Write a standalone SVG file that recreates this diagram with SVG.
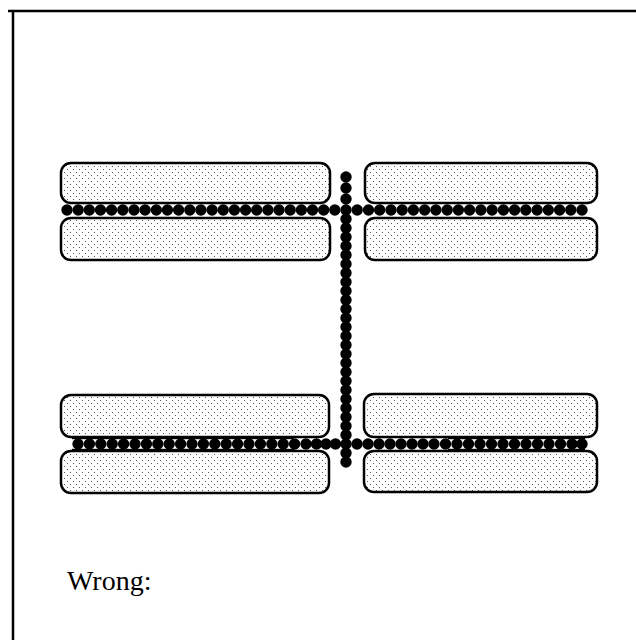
<svg xmlns="http://www.w3.org/2000/svg" width="636" height="640" viewBox="0 0 636 640">
<defs>
<pattern id="stip" width="6" height="6" patternUnits="userSpaceOnUse">
<rect width="6" height="6" fill="#fff"/>
<rect x="1" y="1" width="1" height="1" fill="#555"/>
<rect x="4" y="4" width="1" height="1" fill="#555"/>
</pattern>
<style>
.box{fill:url(#stip);stroke:#000;stroke-width:2.5}
.d{fill:#000}
</style>
<circle id="dot" r="5.7" class="d"/>
</defs>
<rect width="636" height="640" fill="#fff"/>
<g id="frame" stroke="#000" stroke-width="2.5" fill="none">
<line x1="8" y1="11" x2="636" y2="11"/>
<line x1="13" y1="10" x2="13" y2="640"/>
</g>
<g id="box-tl-upper"><rect class="box" x="61" y="163" width="269" height="40" rx="10"/></g>
<g id="box-tl-lower"><rect class="box" x="61" y="218" width="269" height="42" rx="10"/></g>
<g id="box-tr-upper"><rect class="box" x="365" y="163" width="232" height="40" rx="10"/></g>
<g id="box-tr-lower"><rect class="box" x="365" y="218" width="232" height="42" rx="10"/></g>
<g id="box-bl-upper"><rect class="box" x="61" y="395" width="268" height="42" rx="10"/></g>
<g id="box-bl-lower"><rect class="box" x="61" y="451" width="268" height="42" rx="10"/></g>
<g id="box-br-upper"><rect class="box" x="364" y="394" width="233" height="43" rx="10"/></g>
<g id="box-br-lower"><rect class="box" x="364" y="451" width="233" height="41" rx="10"/></g>
<g id="connectors">
<g id="row-top-left">
<use href="#dot" x="67" y="210"/><use href="#dot" x="78.2" y="210"/><use href="#dot" x="89.3" y="210"/><use href="#dot" x="100.5" y="210"/><use href="#dot" x="111.6" y="210"/><use href="#dot" x="122.8" y="210"/><use href="#dot" x="134" y="210"/><use href="#dot" x="145.1" y="210"/><use href="#dot" x="156.3" y="210"/><use href="#dot" x="167.4" y="210"/><use href="#dot" x="178.6" y="210"/><use href="#dot" x="189.8" y="210"/><use href="#dot" x="200.9" y="210"/><use href="#dot" x="212.1" y="210"/><use href="#dot" x="223.2" y="210"/><use href="#dot" x="234.4" y="210"/><use href="#dot" x="245.6" y="210"/><use href="#dot" x="256.7" y="210"/><use href="#dot" x="267.9" y="210"/><use href="#dot" x="279" y="210"/><use href="#dot" x="290.2" y="210"/><use href="#dot" x="301.4" y="210"/><use href="#dot" x="312.5" y="210"/><use href="#dot" x="323.7" y="210"/><use href="#dot" x="334.8" y="210"/>
</g>
<g id="row-top-right">
<use href="#dot" x="357.2" y="210"/><use href="#dot" x="368.5" y="210"/><use href="#dot" x="379.7" y="210"/><use href="#dot" x="391" y="210"/><use href="#dot" x="402.2" y="210"/><use href="#dot" x="413.4" y="210"/><use href="#dot" x="424.7" y="210"/><use href="#dot" x="435.9" y="210"/><use href="#dot" x="447.2" y="210"/><use href="#dot" x="458.4" y="210"/><use href="#dot" x="469.6" y="210"/><use href="#dot" x="480.9" y="210"/><use href="#dot" x="492.1" y="210"/><use href="#dot" x="503.4" y="210"/><use href="#dot" x="514.6" y="210"/><use href="#dot" x="525.8" y="210"/><use href="#dot" x="537.1" y="210"/><use href="#dot" x="548.3" y="210"/><use href="#dot" x="559.6" y="210"/><use href="#dot" x="570.8" y="210"/><use href="#dot" x="582" y="210"/>
</g>
<g id="row-bottom-left">
<rect x="72" y="437.2" width="222" height="2" fill="#000"/>
<rect x="72" y="448.8" width="222" height="2" fill="#000"/>
<use href="#dot" x="78" y="444"/><use href="#dot" x="89.4" y="444"/><use href="#dot" x="100.8" y="444"/><use href="#dot" x="112.2" y="444"/><use href="#dot" x="123.6" y="444"/><use href="#dot" x="135" y="444"/><use href="#dot" x="146.4" y="444"/><use href="#dot" x="157.8" y="444"/><use href="#dot" x="169.2" y="444"/><use href="#dot" x="180.6" y="444"/><use href="#dot" x="192" y="444"/><use href="#dot" x="203.4" y="444"/><use href="#dot" x="214.8" y="444"/><use href="#dot" x="226.2" y="444"/><use href="#dot" x="237.6" y="444"/><use href="#dot" x="249" y="444"/><use href="#dot" x="260.4" y="444"/><use href="#dot" x="271.8" y="444"/><use href="#dot" x="283.2" y="444"/><use href="#dot" x="294.6" y="444"/><use href="#dot" x="306" y="444"/><use href="#dot" x="316.5" y="444"/><use href="#dot" x="326" y="444"/><use href="#dot" x="335.5" y="444"/>
</g>
<g id="row-bottom-right">
<rect x="448" y="437.2" width="137" height="2" fill="#000"/>
<rect x="448" y="448.8" width="137" height="2" fill="#000"/>
<use href="#dot" x="357" y="444"/><use href="#dot" x="368" y="444"/><use href="#dot" x="379" y="444"/><use href="#dot" x="390" y="444"/><use href="#dot" x="401" y="444"/><use href="#dot" x="412" y="444"/><use href="#dot" x="423" y="444"/><use href="#dot" x="434" y="444"/><use href="#dot" x="445.5" y="444"/><use href="#dot" x="457" y="444"/><use href="#dot" x="468.5" y="444"/><use href="#dot" x="480" y="444"/><use href="#dot" x="491.5" y="444"/><use href="#dot" x="503" y="444"/><use href="#dot" x="514.5" y="444"/><use href="#dot" x="526" y="444"/><use href="#dot" x="537.5" y="444"/><use href="#dot" x="549" y="444"/><use href="#dot" x="560.5" y="444"/><use href="#dot" x="572" y="444"/><use href="#dot" x="582" y="444"/>
</g>
<g id="column">
<use href="#dot" x="346" y="177"/><use href="#dot" x="346" y="188"/><use href="#dot" x="346" y="199"/><use href="#dot" x="346" y="210"/><use href="#dot" x="346" y="219"/><use href="#dot" x="346" y="228"/><use href="#dot" x="346" y="237"/><use href="#dot" x="346" y="246"/><use href="#dot" x="346" y="255"/><use href="#dot" x="346" y="264"/><use href="#dot" x="346" y="273"/><use href="#dot" x="346" y="282"/><use href="#dot" x="346" y="291"/><use href="#dot" x="346" y="300"/><use href="#dot" x="346" y="309"/><use href="#dot" x="346" y="318"/><use href="#dot" x="346" y="327"/><use href="#dot" x="346" y="336"/><use href="#dot" x="346" y="345"/><use href="#dot" x="346" y="354"/><use href="#dot" x="346" y="363"/><use href="#dot" x="346" y="372"/><use href="#dot" x="346" y="381"/><use href="#dot" x="346" y="390"/><use href="#dot" x="346" y="399"/><use href="#dot" x="346" y="408"/><use href="#dot" x="346" y="417"/><use href="#dot" x="346" y="426"/><use href="#dot" x="346" y="435"/><use href="#dot" x="346" y="444"/><use href="#dot" x="346" y="453"/><use href="#dot" x="346" y="462"/>
</g>
</g>
<text x="67" y="590" font-family="Liberation Serif, Times New Roman, serif" font-size="28" fill="#000">Wrong:</text>
</svg>
